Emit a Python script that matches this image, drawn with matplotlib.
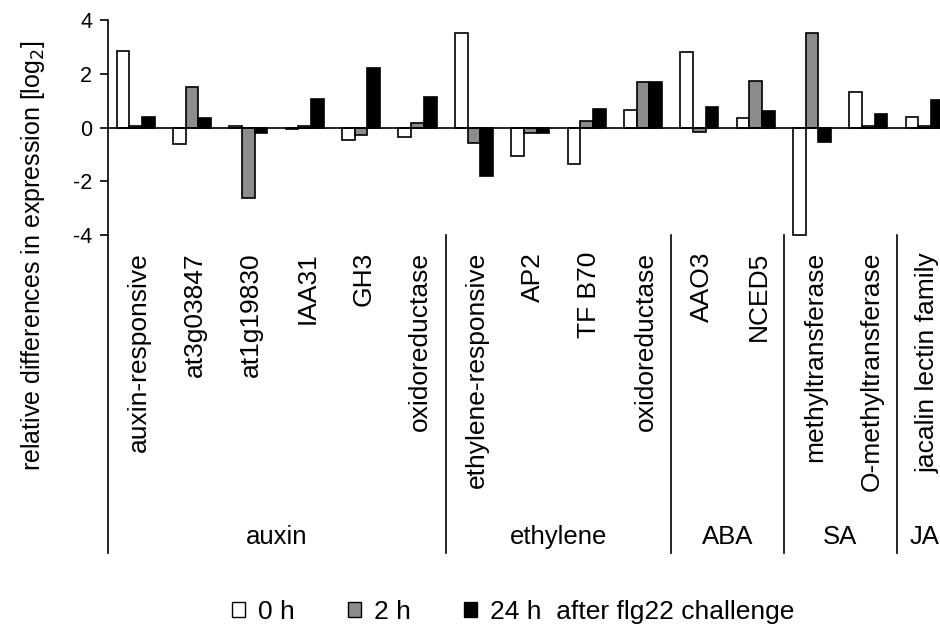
import numpy as np
import matplotlib
matplotlib.use("Agg")
import matplotlib.pyplot as plt
from matplotlib.patches import Patch
from matplotlib.transforms import blended_transform_factory

plt.rcParams['font.family'] = ['Liberation Sans', 'DejaVu Sans']
plt.rcParams['axes.unicode_minus'] = False

# genes on the x axis, grouped by hormone
genes = ["auxin-responsive", "at3g03847", "at1g19830", "IAA31", "GH3", "oxidoreductase",
         "ethylene-responsive", "AP2", "TF B70", "oxidoreductase",
         "AAO3", "NCED5",
         "methyltransferase", "O-methyltransferase",
         "jacalin lectin family"]
groups = ["auxin", "ethylene", "ABA", "SA", "JA"]
group_sizes = [6, 4, 2, 2, 1]

# log2 differences
h0 = [2.85, -0.63, 0.07, -0.06, -0.46, -0.36, 3.52, -1.06, -1.37, 0.65, 2.8, 0.36, -4.0, 1.33, 0.38]
h2 = [0.07, 1.52, -2.63, 0.05, -0.27, 0.16, -0.58, -0.2, 0.26, 1.68, -0.17, 1.72, 3.52, 0.07, 0.05]
h24 = [0.4, 0.35, -0.2, 1.05, 2.21, 1.14, -1.8, -0.2, 0.69, 1.68, 0.75, 0.63, -0.54, 0.49, 1.04]

fig = plt.figure(figsize=(9.4, 6.24), dpi=100)
ax = fig.add_axes([107.5 / 940, 1 - 235 / 624, 845.5 / 940, 215 / 624])

x = np.arange(len(genes))
w = 0.225
kw = dict(edgecolor="black", linewidth=1.2, zorder=2, clip_on=False)
ax.bar(x - w, h0, w, color="white", **kw)
ax.bar(x, h2, w, color="#8c8c8c", **kw)
ax.bar(x + w, h24, w, color="black", **kw)
ax.axhline(0, color="black", lw=1.2, zorder=3)

ax.set_xlim(-0.5, len(genes) - 0.5)
ax.set_ylim(-4, 4)
ax.set_yticks([-4, -2, 0, 2, 4])
ax.tick_params(axis='y', labelsize=15.5, length=6, width=1.2, direction='out', pad=5)
ax.set_xticks([])
for s in ["top", "right", "bottom"]:
    ax.spines[s].set_visible(False)
ax.spines["left"].set_linewidth(1.2)

tr = blended_transform_factory(ax.transData, ax.transAxes)
bottom = -1.479
# y axis line continues down through the label area
ax.plot([-0.5, -0.5], [0, bottom], color="black", lw=1.2, transform=tr, clip_on=False)

# gene labels
for i, g in enumerate(genes):
    ax.text(i + 0.05, -0.079, g, rotation=90, ha="center", va="top",
            fontsize=19, transform=tr)

# group dividers and group labels
start = 0
for name, n in zip(groups, group_sizes):
    end = start + n
    if end < len(genes):
        ax.plot([end - 0.5, end - 0.5], [0, bottom], color="black", lw=1.2,
                transform=tr, clip_on=False)
    ax.text((start + end - 1) / 2, -1.405, name, ha="center", va="center",
            fontsize=18.5, transform=tr)
    start = end

fig.text(33 / 940, 1 - 256 / 624, "relative differences in expression [log$_2$]",
         rotation=90, ha="center", va="center", fontsize=18)

handles = [Patch(facecolor="white", edgecolor="black", lw=1),
           Patch(facecolor="#8c8c8c", edgecolor="black", lw=1),
           Patch(facecolor="black", edgecolor="black", lw=1)]
fig.legend(handles, ["0 h", "2 h", "24 h  after flg22 challenge"], ncol=3,
           loc="center left", bbox_to_anchor=(232 / 940, 1 - 612 / 624), frameon=False,
           borderpad=0, borderaxespad=0,
           fontsize=19, handlelength=0.5, handleheight=0.5, handletextpad=0.5,
           columnspacing=2.0)

fig.savefig("out.png", dpi=100)
